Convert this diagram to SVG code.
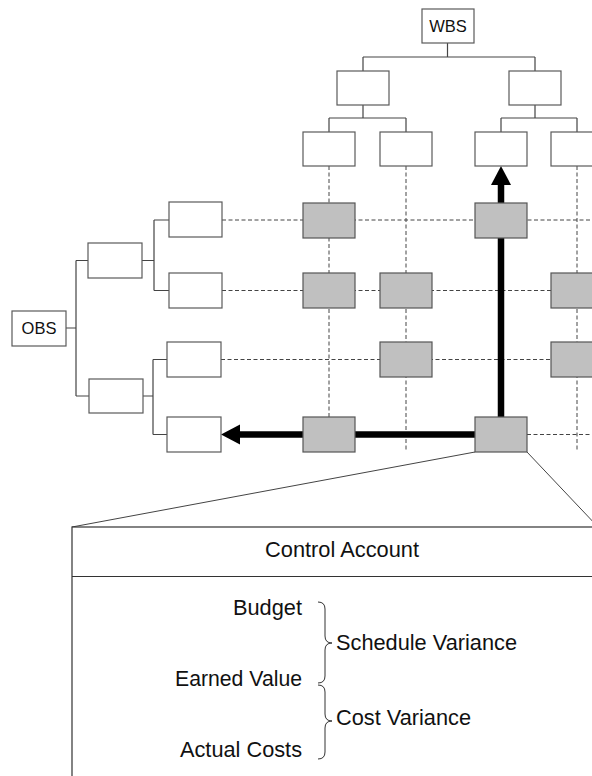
<svg xmlns="http://www.w3.org/2000/svg" width="592" height="776" viewBox="0 0 592 776">
<style>
.wb{fill:#fff;stroke:#5a5a5a;stroke-width:1.2}
.gb{fill:#c0c0c0;stroke:#555;stroke-width:1.2}
.tree{fill:none;stroke:#444;stroke-width:1.2}
.dash{fill:none;stroke:#444;stroke-width:1;stroke-dasharray:4 2.5}
.thick{fill:none;stroke:#000;stroke-width:6.5}
.zoom{fill:none;stroke:#444;stroke-width:1}
.lbl{font-family:"Liberation Sans",Arial,sans-serif;fill:#111}
.big{font-size:21.5px}
.sm{font-size:16.5px}
.brace{fill:none;stroke:#333;stroke-width:1}
</style>
<defs>
<marker id="ah" markerUnits="userSpaceOnUse" markerWidth="20" markerHeight="21" refX="0" refY="10" orient="auto">
<path d="M0,0 L19,10 L0,20 Z" fill="#000"/>
</marker>
</defs>
<rect width="592" height="776" fill="#fff"/>

<g id="connectors">
<path class="tree" d="M447.5,43 V57 M363,57 H535 M363,57 V71 M535,57 V71"/>
<path class="tree" d="M363,105 V118 M329,118 H406 M329,118 V132 M406,118 V132"/>
<path class="tree" d="M535,105 V118 M501,118 H577 M501,118 V132 M577,118 V132"/>
<path class="tree" d="M66,328 H76 M76,260.5 V396 M76,260.5 H88 M76,396 H89"/>
<path class="tree" d="M142,260.5 H154 M154,220 V290.5 M154,220 H169 M154,290.5 H169"/>
<path class="tree" d="M143,396 H153 M153,359.5 V434.5 M153,359.5 H167 M153,434.5 H167"/>
<path class="dash" d="M222,220 H592 M222,290.5 H592 M221,359.5 H592 M527,434.5 H592"/>
<path class="dash" d="M329,166 V417 M406,166 V450 M577,166 V450"/>
<line class="thick" x1="475" y1="434.5" x2="240" y2="434.5" marker-end="url(#ah)"/>
<line class="thick" x1="501" y1="417" x2="501" y2="185" marker-end="url(#ah)"/>
<path class="zoom" d="M475,452 L72,527 M527,452 L598,527"/>
</g>

<g id="wbs"><rect class="wb" x="422" y="9" width="52" height="34"/><text class="lbl sm" x="448" y="32" text-anchor="middle">WBS</text></g>
<g id="wbs-1"><rect class="wb" x="337" y="71" width="52" height="34"/></g>
<g id="wbs-2"><rect class="wb" x="509" y="71" width="52" height="34"/></g>
<g id="wbs-1-1"><rect class="wb" x="303" y="132" width="52" height="34"/></g>
<g id="wbs-1-2"><rect class="wb" x="380" y="132" width="52" height="34"/></g>
<g id="wbs-2-1"><rect class="wb" x="475" y="132" width="52" height="34"/></g>
<g id="wbs-2-2"><rect class="wb" x="551" y="132" width="52" height="34"/></g>

<g id="obs"><rect class="wb" x="12" y="311" width="54" height="35"/><text class="lbl sm" x="39" y="334" text-anchor="middle">OBS</text></g>
<g id="obs-1"><rect class="wb" x="88" y="243" width="54" height="35"/></g>
<g id="obs-2"><rect class="wb" x="89" y="379" width="54" height="34"/></g>
<g id="obs-1-1"><rect class="wb" x="169" y="202" width="53" height="35"/></g>
<g id="obs-1-2"><rect class="wb" x="169" y="273" width="53" height="35"/></g>
<g id="obs-2-1"><rect class="wb" x="167" y="342" width="54" height="35"/></g>
<g id="obs-2-2"><rect class="wb" x="167" y="417" width="54" height="35"/></g>

<g id="ca-r1-a"><rect class="gb" x="303" y="203" width="52" height="35"/></g>
<g id="ca-r1-c"><rect class="gb" x="475" y="203" width="52" height="35"/></g>
<g id="ca-r2-a"><rect class="gb" x="303" y="273" width="52" height="35"/></g>
<g id="ca-r2-b"><rect class="gb" x="380" y="273" width="52" height="35"/></g>
<g id="ca-r2-d"><rect class="gb" x="551" y="273" width="52" height="35"/></g>
<g id="ca-r3-b"><rect class="gb" x="380" y="342" width="52" height="35"/></g>
<g id="ca-r3-d"><rect class="gb" x="551" y="342" width="52" height="35"/></g>
<g id="ca-r4-a"><rect class="gb" x="303" y="417" width="52" height="35"/></g>
<g id="ca-r4-c"><rect class="gb" x="475" y="417" width="52" height="35"/></g>

<g id="control-account">
<rect x="72" y="527" width="540" height="270" fill="#fff" stroke="#333" stroke-width="1.2"/>
<line x1="72" y1="576.5" x2="600" y2="576.5" stroke="#333" stroke-width="1.2"/>
<text class="lbl big" x="265" y="557" textLength="154" lengthAdjust="spacingAndGlyphs">Control Account</text>
<text class="lbl big" x="233" y="615" textLength="69" lengthAdjust="spacingAndGlyphs">Budget</text>
<text class="lbl big" x="175" y="686" textLength="127" lengthAdjust="spacingAndGlyphs">Earned Value</text>
<text class="lbl big" x="180" y="757" textLength="122" lengthAdjust="spacingAndGlyphs">Actual Costs</text>
<text class="lbl big" x="336" y="650" textLength="181" lengthAdjust="spacingAndGlyphs">Schedule Variance</text>
<text class="lbl big" x="336" y="725" textLength="135" lengthAdjust="spacingAndGlyphs">Cost Variance</text>
<path class="brace" d="M318,602 Q325,602 325,609 L325,636 Q325,643 332,643 Q325,643 325,650 L325,676 Q325,683 318,683"/>
<path class="brace" d="M318,685 Q325,685 325,692 L325,714 Q325,721 332,721 Q325,721 325,728 L325,752 Q325,759 318,759"/>
</g>
</svg>
